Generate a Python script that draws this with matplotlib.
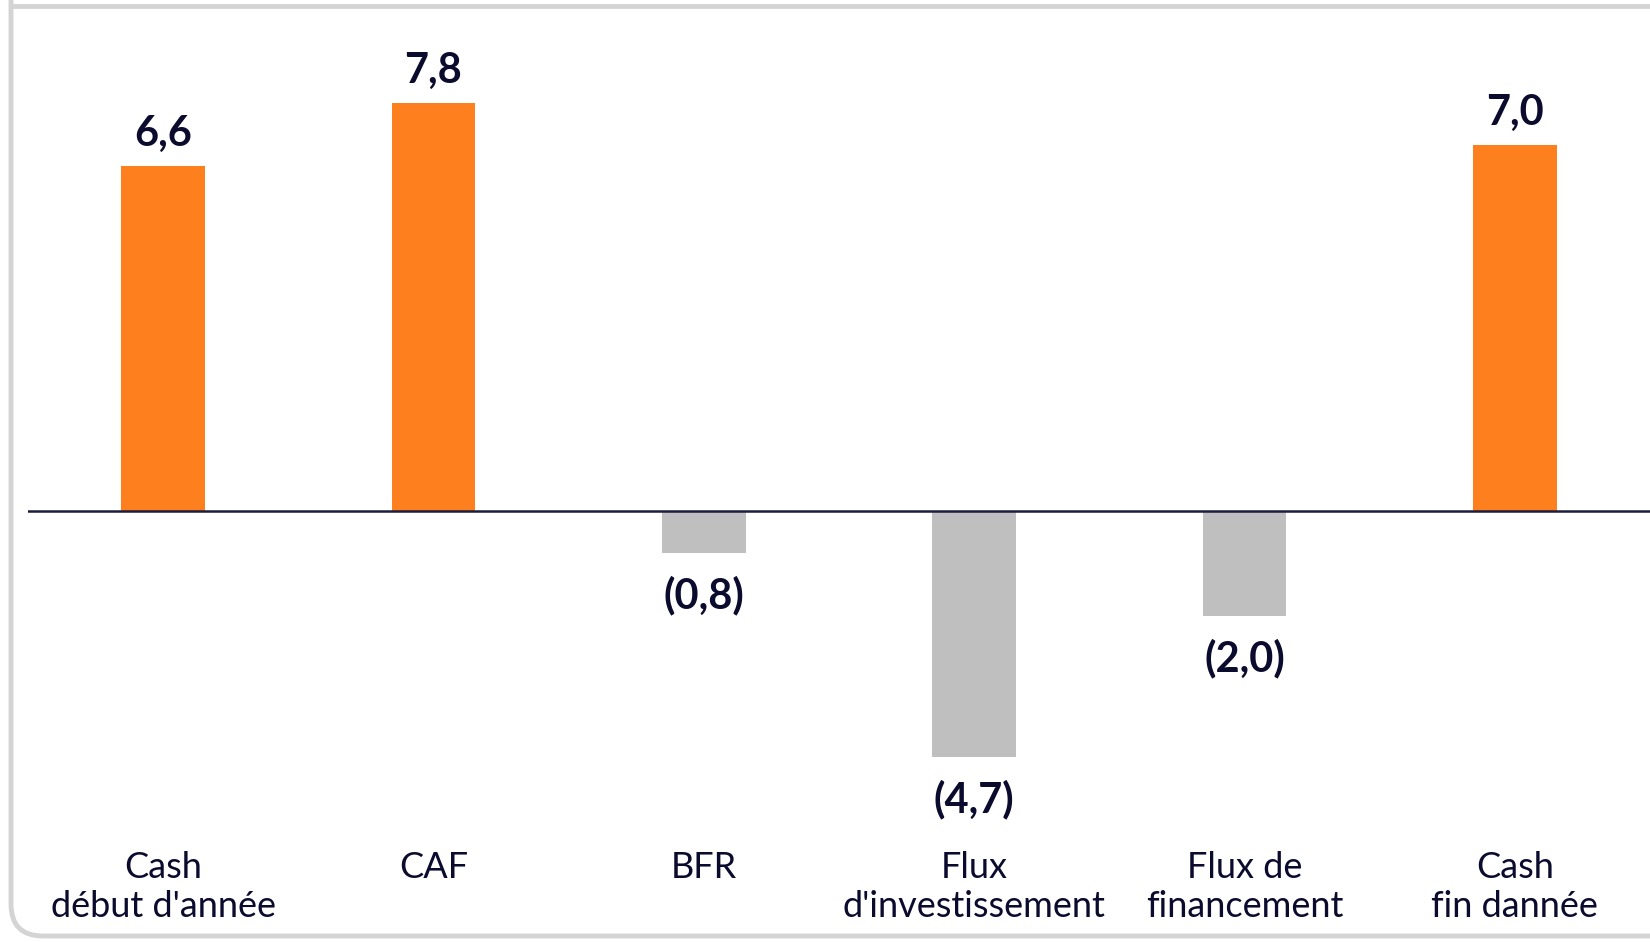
import matplotlib.pyplot as plt
from matplotlib.patches import FancyBboxPatch
from matplotlib.lines import Line2D
from matplotlib.transforms import blended_transform_factory

categories = ["Cash\ndébut d'année", "CAF", "BFR", "Flux\nd'investissement", "Flux de\nfinancement", "Cash\nfin dannée"]
values = [6.6, 7.8, -0.8, -4.7, -2.0, 7.0]
labels = ["6,6", "7,8", "(0,8)", "(4,7)", "(2,0)", "7,0"]

orange = "#FD7F1E"
grey = "#BFBFBF"
navy = "#0B0B2E"

W, H = 1650, 942
fig = plt.figure(figsize=(W / 100, H / 100), dpi=100)
fig.patch.set_facecolor("white")

# card background with grey border (top cut off, bottom-left rounded)
card = FancyBboxPatch((11, 6), 1700, 1000, boxstyle="round,pad=0,rounding_size=32",
                      transform=None, facecolor="white", edgecolor="#d4d4d4", linewidth=3.5, zorder=-5)
fig.patches.append(card)
fig.lines.append(Line2D([11, W], [H - 6, H - 6], transform=None, color="#d4d4d4", linewidth=3.5, zorder=-4))

# axes: zero line at y=511 px, 52.3 px per unit
left, right = 28, 1650
top, bottom = 0, 942
ax = fig.add_axes([left / W, 0, (right - left) / W, 1])
ppu = 52.3
ax.set_ylim(-(bottom - 511) / ppu, (511 - top) / ppu)
ax.set_xlim(-0.5, 5.5)
ax.axis("off")
ax.patch.set_alpha(0)

x = list(range(len(values)))
colors = [orange if v > 0 else grey for v in values]
ax.bar(x, values, width=0.31, color=colors, zorder=2)
ax.axhline(0, color="#1c1c3c", linewidth=1.8, zorder=3)

for xi, v, lab in zip(x, values, labels):
    if v > 0:
        ax.annotate(lab, (xi, v), xytext=(0, 23), textcoords="offset points",
                    ha="center", va="center", fontsize=30, fontweight="bold",
                    color=navy, family="Lato")
    else:
        ax.annotate(lab, (xi, v), xytext=(0, -31), textcoords="offset points",
                    ha="center", va="center", fontsize=30, fontweight="bold",
                    color=navy, family="Lato")

trans = blended_transform_factory(ax.transData, fig.transFigure)
for xi, cat in zip(x, categories):
    ax.text(xi, 1 - 851 / H, cat, transform=trans, ha="center", va="top",
            fontsize=26, color=navy, family="Lato", linespacing=1.23)

fig.savefig("out.png", dpi=100)
